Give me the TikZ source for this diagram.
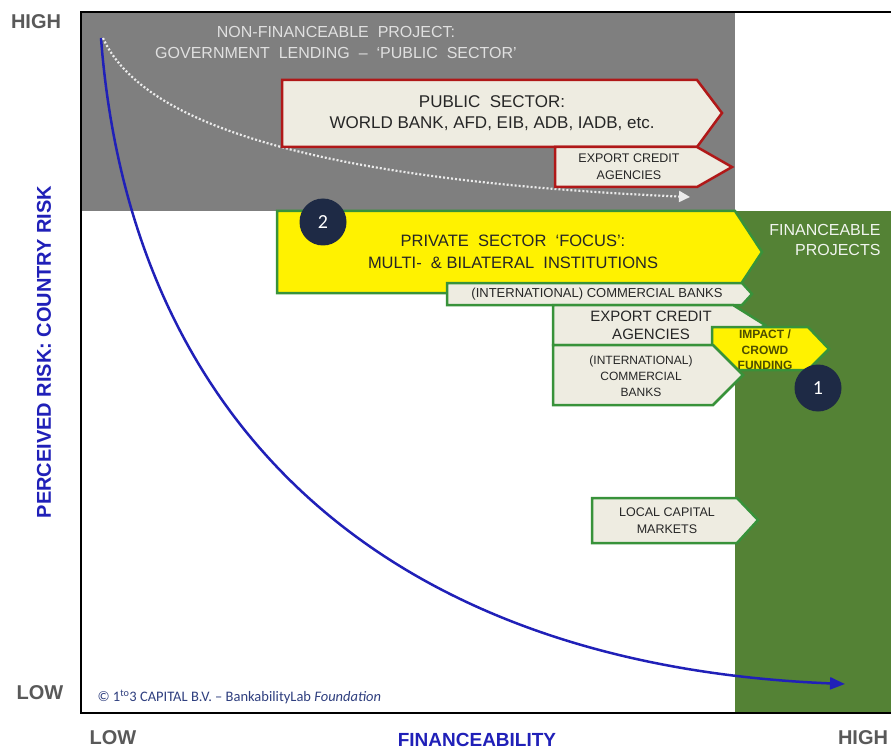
\documentclass[tikz,border=0pt]{standalone}
\usepackage{fontspec}
\setmainfont{Liberation Sans}
\newfontfamily\carlito{Carlito}
\usetikzlibrary{positioning, calc, arrows.meta}
\definecolor{chartgray}{HTML}{7F7F7F}
\definecolor{fingreen}{HTML}{548235}
\definecolor{boxbeige}{HTML}{EEECE1}
\definecolor{boxred}{HTML}{B01818}
\definecolor{boxgreen}{HTML}{38923A}
\definecolor{navy}{HTML}{1E2A45}
\definecolor{axisblue}{HTML}{2020B8}
\definecolor{axisgray}{HTML}{595959}
\definecolor{copyblue}{HTML}{2F3F7F}
\definecolor{olivetext}{HTML}{4D4D00}
\newcommand{\fsz}[2]{\fontsize{#1}{#2}\selectfont}
\tikzstyle{Curve} = [
%risk curve: blue line, filled tip
line width=2.5pt, draw=axisblue,
-{Triangle[length=15pt, width=12pt]}
]

\begin{document}
\begin{tikzpicture}[x=1pt, y=-1pt,
			redbox/.style = {draw=boxred, fill=boxbeige, line width=2.5pt},
			greenbox/.style = {draw=boxgreen, fill=boxbeige, line width=2.5pt},
			yellowbox/.style = {draw=boxgreen, fill=yellow, line width=2.5pt},
			boxtext/.style = {text=black!85, align=center, inner sep=0pt},
			axislabel/.style = {text=axisgray, font=\bfseries\fsz{20}{24}},
			marker/.style = {circle, fill=navy, text=white, minimum size=47pt, inner sep=0pt, font=\carlito\fsz{20}{24}},
		]
		\useasboundingbox (0,0) rectangle (891,751);
		\fill[white] (0,0) rectangle (891,751);
		\fill[chartgray] (81,12) rectangle (735,211);
		\fill[fingreen] (735,211) rectangle (891,713);
		\draw[line width=2pt] (891,12) -- (81,12) -- (81,713) -- (891,713);

		\coordinate (curvetop) at (101,38);
		\coordinate (curveend) at (845,684);
		\coordinate (dottop) at (103,38);
		\coordinate (dotend) at (690,197);
		\draw[Curve] (curvetop) .. controls (130,420) and (380,665) .. (curveend);
		\draw[white!92!black, line width=2.2pt, dash pattern=on 2pt off 2pt, -{Triangle[length=11pt, width=11pt]}] (dottop) .. controls (140,120) and (300,180) .. (dotend);

		\node[text=white!88!black, align=center, font=\fsz{16}{21}] (nonfin) at (336,42) {NON-FINANCEABLE~~PROJECT:\\GOVERNMENT~~LENDING~~--~~`PUBLIC~~SECTOR'};

		\draw[redbox] (282,80) -- (697,80) -- (722,113) -- (697,147) -- (282,147) -- cycle;
		\node[boxtext, font=\fsz{17}{21}] (pubtxt) at (492,113) {PUBLIC~~SECTOR:\\WORLD BANK, AFD, EIB, ADB, IADB, etc.};
		\draw[redbox] (555,147) -- (697,147) -- (732,167) -- (697,187) -- (555,187) -- cycle;
		\node[boxtext, font=\fsz{12.5}{17}] (ecatop) at (629,167) {EXPORT CREDIT\\AGENCIES};

		\draw[yellowbox] (277,211) -- (735,211) -- (762,252) -- (735,293) -- (277,293) -- cycle;
		\node[boxtext, font=\fsz{16.5}{22}] (privtxt) at (513,252) {PRIVATE~~SECTOR~~`FOCUS':\\MULTI-~~\&~BILATERAL~~INSTITUTIONS};
		\draw[greenbox] (447,283) -- (742,283) -- (752,294) -- (742,305) -- (447,305) -- cycle;
		\node[boxtext, font=\fsz{13}{15}] (cbstrip) at (597,294) {(INTERNATIONAL) COMMERCIAL BANKS};
		\draw[greenbox] (553,305) -- (733,305) -- (765,325) -- (733,345) -- (553,345) -- cycle;
		\node[boxtext, font=\fsz{15}{18}] (ecamid) at (651,325) {EXPORT CREDIT\\AGENCIES};
		\draw[yellowbox] (712,327) -- (808,327) -- (829,349) -- (808,370) -- (712,370) -- cycle;
		\node[boxtext, text=olivetext, font=\bfseries\fsz{12}{15.5}] (impact) at (765,350) {IMPACT /\\CROWD\\FUNDING};
		\draw[greenbox] (553,345) -- (713,345) -- (743,375) -- (713,405) -- (553,405) -- cycle;
		\node[boxtext, font=\fsz{12}{16}] (cblow) at (641,376) {(INTERNATIONAL)\\COMMERCIAL\\BANKS};
		\draw[greenbox] (592,498) -- (737,498) -- (758,520) -- (737,543) -- (592,543) -- cycle;
		\node[boxtext, font=\fsz{12.5}{17}] (localcm) at (667,521) {LOCAL CAPITAL\\MARKETS};

		\node[text=white!92!fingreen, align=right, anchor=east, font=\fsz{16}{20}] (finproj) at (884,240) {FINANCEABLE\\PROJECTS};

		\node[marker] (two) at (323,222) {2};
		\node[marker] (one) at (818,388) {1};

		\node[axislabel] (highy) at (36,22) {HIGH};
		\node[axislabel] (lowy) at (40,693) {LOW};
		\node[axislabel] (lowx) at (113,738) {LOW};
		\node[axislabel] (highx) at (863,738) {HIGH};
		\node[text=axisblue, font=\bfseries\fsz{19}{22}] (finx) at (477,740) {FINANCEABILITY};
		\node[text=axisblue, rotate=90, font=\bfseries\fsz{20}{24}] (risky) at (44,352) {PERCEIVED RISK: COUNTRY RISK};
		\node[anchor=west, text=copyblue, font=\carlito\fsz{14.5}{17}] (copy) at (94,697) {© 1\textsuperscript{to}3 CAPITAL B.V. – BankabilityLab \textit{Foundation}};
	\end{tikzpicture}
\end{document}
